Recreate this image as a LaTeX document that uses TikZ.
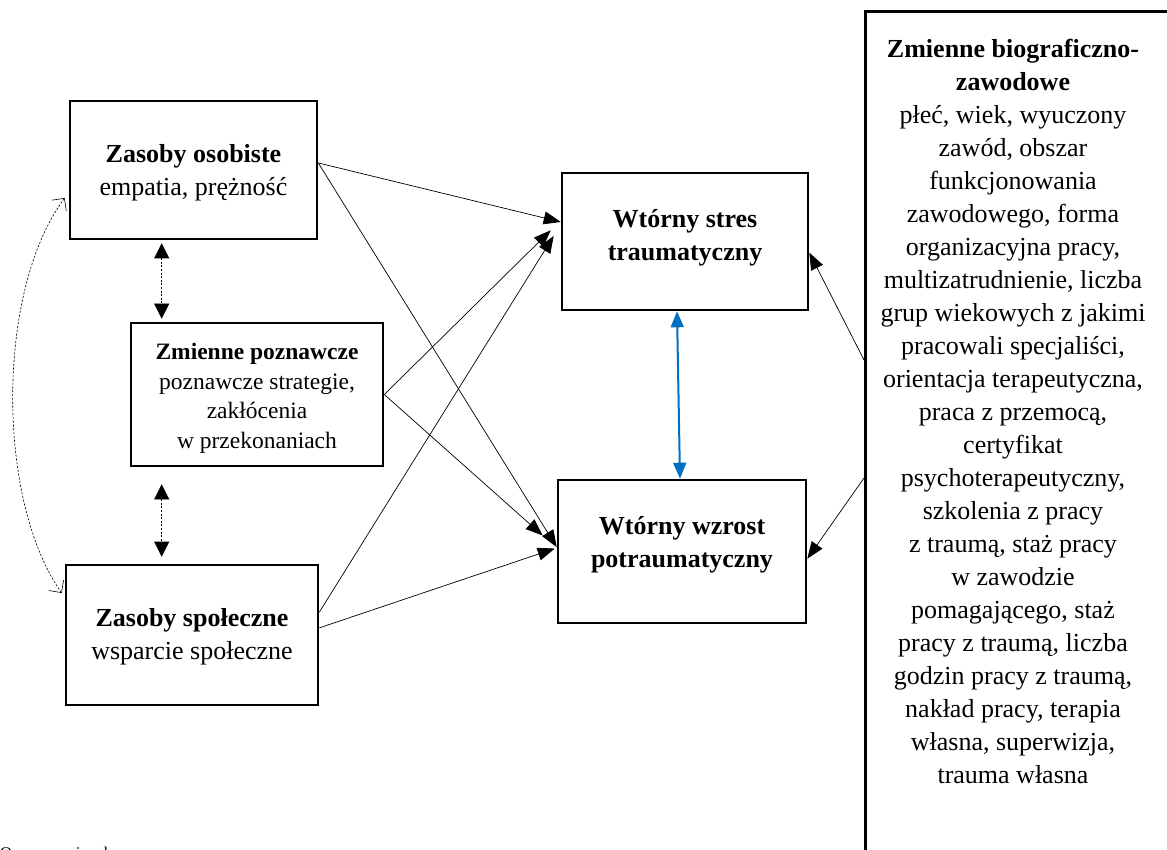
\documentclass[tikz,border=0pt]{standalone}
\usepackage{fontspec}
\setmainfont{Liberation Serif}
\usetikzlibrary{arrows.meta,calc}
\definecolor{arrowblue}{RGB}{0,112,192}
\begin{document}
\begin{tikzpicture}[x=1pt,y=-1pt,
  box/.style={draw, line width=2.6pt, inner sep=0pt},
  boxtext/.style={align=center, inner sep=0pt, font=\fontsize{26}{33}\selectfont},
  link/.style={line width=0.7pt, -{Triangle[length=17pt,width=13pt]}},
  dotlink/.style={line width=0.6pt, dash pattern=on 2pt off 1.6pt,
    {Triangle[length=15pt,width=15pt]}-{Triangle[length=15pt,width=15pt]}},
  curvelink/.style={line width=0.6pt, dash pattern=on 2.2pt off 1.6pt,
    {Straight Barb[length=9pt,width=18pt]}-{Straight Barb[length=9pt,width=18pt]}},
  bluelink/.style={line width=2pt, draw=arrowblue,
    {Triangle[length=16pt,width=13pt]}-{Triangle[length=16pt,width=13pt]}}
]
\useasboundingbox (0,0) rectangle (1167,850);

% boxes
\node[box, minimum width=247pt, minimum height=138pt] (A) at (193.5,170) {};
\node[boxtext] (At) at ($(A.center)+(0,3)$) {\textbf{Zasoby osobiste}\\empatia, prężność};
\node[box, minimum width=252pt, minimum height=143pt] (B) at (257,394.5) {};
\node[boxtext, font=\fontsize{23.5}{29.5}\selectfont] (Bt) at ($(B.center)+(0,4)$)
  {\textbf{Zmienne poznawcze}\\poznawcze strategie,\\zakłócenia\\w przekonaniach};
\node[box, minimum width=252pt, minimum height=140pt] (C) at (192,635) {};
\node[boxtext] (Ct) at ($(C.center)+(0,2)$) {\textbf{Zasoby społeczne}\\wsparcie społeczne};
\node[box, minimum width=246pt, minimum height=137pt] (D) at (685,241.5) {};
\node[boxtext] (Dt) at ($(D.center)+(0,-4)$) {\textbf{Wtórny stres}\\\textbf{traumatyczny}};
\node[box, minimum width=248pt, minimum height=143pt] (E) at (682,551.5) {};
\node[boxtext] (Et) at ($(E.center)+(0,-7)$) {\textbf{Wtórny wzrost}\\\textbf{potraumatyczny}};
\node[box, minimum width=330pt, minimum height=880pt, anchor=north west] (F) at (864,10) {};
\node[boxtext, anchor=north] (Ft) at (1013,39)
  {\textbf{Zmienne biograficzno-}\\\textbf{zawodowe}\\
   płeć, wiek, wyuczony\\zawód, obszar\\funkcjonowania\\zawodowego, forma\\
   organizacyjna pracy,\\multizatrudnienie, liczba\\grup wiekowych z jakimi\\
   pracowali specjaliści,\\orientacja terapeutyczna,\\praca z przemocą,\\
   certyfikat\\psychoterapeutyczny,\\szkolenia z pracy\\z traumą, staż pracy\\
   w zawodzie\\pomagającego, staż\\pracy z traumą, liczba\\
   godzin pracy z traumą,\\nakład pracy, terapia\\własna, superwizja,\\
   trauma własna};

% connectors
\draw[link] ($(A.north east)!0.45!(A.south east)$) -- ($(D.north west)!0.36!(D.south west)$);
\draw[link] ($(A.north east)!0.45!(A.south east)$) -- ($(E.north west)!0.47!(E.south west)$);
\draw[link] (B.east) -- ($(D.north west)!0.42!(D.south west)+(-10,0)$);
\draw[link] (B.east) -- ($(E.north west)!0.39!(E.south west)+(-14,0)$);
\draw[link] ($(C.north east)!0.34!(C.south east)$) -- ($(D.north west)!0.46!(D.south west)+(-7,0)$);
\draw[link] ($(C.north east)!0.45!(C.south east)$) -- ($(E.north west)!0.48!(E.south west)+(-2,0)$);
\draw[link] ($(F.north west)+(0,350)$) -- ($(D.north east)!0.58!(D.south east)$);
\draw[link] ($(F.north west)+(0,468)$) -- ($(E.north east)!0.55!(E.south east)$);

\draw[bluelink] ($(D.south)+(-8,0)$) -- ($(E.north)+(-2,0)$);

\draw[dotlink] ($(A.south west)+(93,3)$) -- ($(B.north west)+(32,-3)$);
\draw[dotlink] ($(B.south west)+(32,17)$) -- ($(C.north west)+(97,-7)$);

\draw[curvelink] ($(A.west)+(-4,28)$) .. controls (-4,290) and (-4,500) .. ($(C.west)+(-3,-42)$);

\node[anchor=base west, inner sep=0pt, font=\fontsize{16.4}{20}\selectfont] (src) at (0,858.5) {Opracowanie własne};
\end{tikzpicture}
\end{document}
